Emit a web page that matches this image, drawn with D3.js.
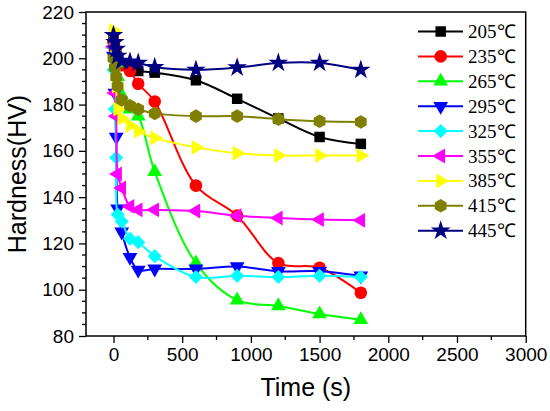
<!DOCTYPE html>
<html><head><meta charset="utf-8">
<script src="https://cdn.jsdelivr.net/npm/d3@7"></script>
<style>
html,body{margin:0;padding:0;background:#fff;}
svg{display:block;}
</style>
</head><body>
<svg id="chart" width="550" height="411"></svg>
<script>
// ---- data ----
const times = [0, 10, 20, 30, 60, 120, 180, 300, 600, 900, 1200, 1500, 1800];
const seriesNames = ["205℃", "235℃", "265℃", "295℃", "325℃", "355℃", "385℃", "415℃", "445℃"];
const h205 = [208, 205, 202, 200, 197, 195.5, 194.5, 193.8, 190.5, 182.5, 174, 166, 163];
const h235 = [207, 204, 201, 199, 197, 194.5, 189, 181.3, 145, 132, 111.5, 109.5, 98.7];
const h265 = [206, 203, 198, 192, 184, 178, 175, 151, 111.5, 95.5, 93, 89.5, 87];
const h295 = [201, 185, 166, 135, 125, 114, 108.5, 109, 109, 110, 108, 108, 106];
const h325 = [195, 178, 157, 132.5, 129.5, 122, 120.5, 114.5, 105.5, 106, 105.5, 106, 105.5];
const h355 = [205, 185, 175, 150, 144, 136, 134.5, 134.5, 134, 132, 131, 130.3, 130];
const h385 = [212, 200, 188, 178, 174, 171, 168.5, 165.6, 161.5, 159, 158, 158, 158];
const h415 = [200, 196, 192, 188, 182, 179.5, 178, 176.2, 175, 175, 173.7, 172.8, 172.5];
const h445 = [210, 207, 204, 201, 198.8, 198.5, 198, 196.2, 195, 196, 198, 198, 195];
const seriesValues = [h205, h235, h265, h295, h325, h355, h385, h415, h445];
const seriesColors = ["#000000", "#ff0000", "#00ff00", "#0000ff", "#00ffff", "#ff00ff", "#ffff00", "#808000", "#000080"];
const seriesMarkers = ["square", "circle", "triUp", "triDown", "diamond", "triLeft", "triRight", "hexagon", "star"];
const xTicks = [0, 500, 1000, 1500, 2000, 2500, 3000];
const yTicks = [80, 100, 120, 140, 160, 180, 200, 220];

// ---- layout ----
const svg = d3.select("#chart");
const L = 86, R = 525.7, T = 12, B = 336;
const x = d3.scaleLinear().domain([-200, 3000]).range([L, R]);
const y = d3.scaleLinear().domain([80, 220]).range([B, T]);

// marker shapes
const hexagon = {draw(ctx, size){ const r = Math.sqrt(size/(1.5*Math.sqrt(3)));
  for(let i=0;i<6;i++){const a=Math.PI/6+i*Math.PI/3; const px=r*Math.cos(a), py=r*Math.sin(a); if(i===0)ctx.moveTo(px,py); else ctx.lineTo(px,py);} ctx.closePath(); }};
const diamondSq = {draw(ctx, size){ const r = Math.sqrt(size/2);
  ctx.moveTo(0,-r); ctx.lineTo(r,0); ctx.lineTo(0,r); ctx.lineTo(-r,0); ctx.closePath(); }};
function markerPath(kind){
  switch(kind){
    case "square": return {p: d3.symbol(d3.symbolSquare, 110)(), rot: 0};
    case "circle": return {p: d3.symbol(d3.symbolCircle, 125)(), rot: 0};
    case "triUp": return {p: d3.symbol(d3.symbolTriangle, 95)(), rot: 0};
    case "triDown": return {p: d3.symbol(d3.symbolTriangle, 95)(), rot: 180};
    case "triLeft": return {p: d3.symbol(d3.symbolTriangle, 95)(), rot: -90};
    case "triRight": return {p: d3.symbol(d3.symbolTriangle, 95)(), rot: 90};
    case "diamond": return {p: d3.symbol(diamondSq, 100)(), rot: 0};
    case "hexagon": return {p: d3.symbol(hexagon, 120)(), rot: 0};
    case "star": return {p: d3.symbol(d3.symbolStar, 120)(), rot: 0};
  }
}

// axes
const fontSans = "'Liberation Sans', Arial, sans-serif";
const xAxis = d3.axisBottom(x).tickValues(xTicks).tickFormat(d3.format("d")).tickSize(7).tickSizeOuter(0).tickPadding(5);
const gx = svg.append("g").attr("transform", `translate(0,${B})`).call(xAxis);
gx.select(".domain").remove();
gx.selectAll("text").style("font-family", fontSans).style("font-size", "19px").attr("fill", "#000");
gx.selectAll("line").attr("stroke", "#000").attr("stroke-width", 1.3);
const xMinor = d3.range(-0, 3001, 250).filter(v => v % 500 !== 0);
svg.append("g").selectAll("line").data(xMinor).join("line")
  .attr("x1", d => x(d)).attr("x2", d => x(d)).attr("y1", B).attr("y2", B + 4)
  .attr("stroke", "#000").attr("stroke-width", 1.3);

const yAxis = d3.axisLeft(y).tickValues(yTicks).tickFormat(d3.format("d")).tickSize(7).tickSizeOuter(0).tickPadding(5);
const gy = svg.append("g").attr("transform", `translate(${L},0)`).call(yAxis);
gy.select(".domain").remove();
gy.selectAll("text").style("font-family", fontSans).style("font-size", "19px").attr("fill", "#000");
gy.selectAll("line").attr("stroke", "#000").attr("stroke-width", 1.3);
const yMinor = d3.range(80, 221, 5).filter(v => v % 20 !== 0);
svg.append("g").selectAll("line").data(yMinor).join("line")
  .attr("x1", L - 4).attr("x2", L).attr("y1", d => y(d)).attr("y2", d => y(d))
  .attr("stroke", "#000").attr("stroke-width", 1.3);

// frame
svg.append("rect").attr("x", L).attr("y", T).attr("width", R - L).attr("height", B - T)
  .attr("fill", "none").attr("stroke", "#000").attr("stroke-width", 1.5);

// axis titles
svg.append("text").attr("x", (L + R) / 2).attr("y", 396).attr("text-anchor", "middle")
  .style("font-family", fontSans).style("font-size", "25px").text("Time (s)");
svg.append("text").attr("transform", `translate(26,${(T + B) / 2}) rotate(-90)`).attr("text-anchor", "middle")
  .style("font-family", fontSans).style("font-size", "25px").text("Hardness(HV)");

// series
const line = d3.line().x(d => x(d[0])).y(d => y(d[1])).curve(d3.curveCatmullRom.alpha(0.5));
seriesValues.forEach((vals, i) => {
  const pts = times.map((t, j) => [t, vals[j]]);
  const g = svg.append("g");
  g.append("path").attr("d", line(pts)).attr("fill", "none")
    .attr("stroke", seriesColors[i]).attr("stroke-width", 2);
  const m = markerPath(seriesMarkers[i]);
  g.selectAll("path.mk").data(pts).join("path").attr("class", "mk")
    .attr("d", m.p).attr("fill", seriesColors[i])
    .attr("transform", d => `translate(${x(d[0])},${y(d[1])}) rotate(${m.rot})`);
});

// legend
const lg = svg.append("g");
seriesNames.forEach((name, i) => {
  const cy = 31.5 + i * 24.9;
  lg.append("line").attr("x1", 418).attr("x2", 463).attr("y1", cy).attr("y2", cy)
    .attr("stroke", seriesColors[i]).attr("stroke-width", 2);
  const m = markerPath(seriesMarkers[i]);
  lg.append("path").attr("d", m.p).attr("fill", seriesColors[i])
    .attr("transform", `translate(440.7,${cy}) rotate(${m.rot})`);
  lg.append("text").attr("x", 468).attr("y", cy + 6.5)
    .style("font-family", "'Liberation Serif', 'Times New Roman', serif").style("font-size", "19px")
    .attr("fill", "#000").text(name);
});
</script>
</body></html>
